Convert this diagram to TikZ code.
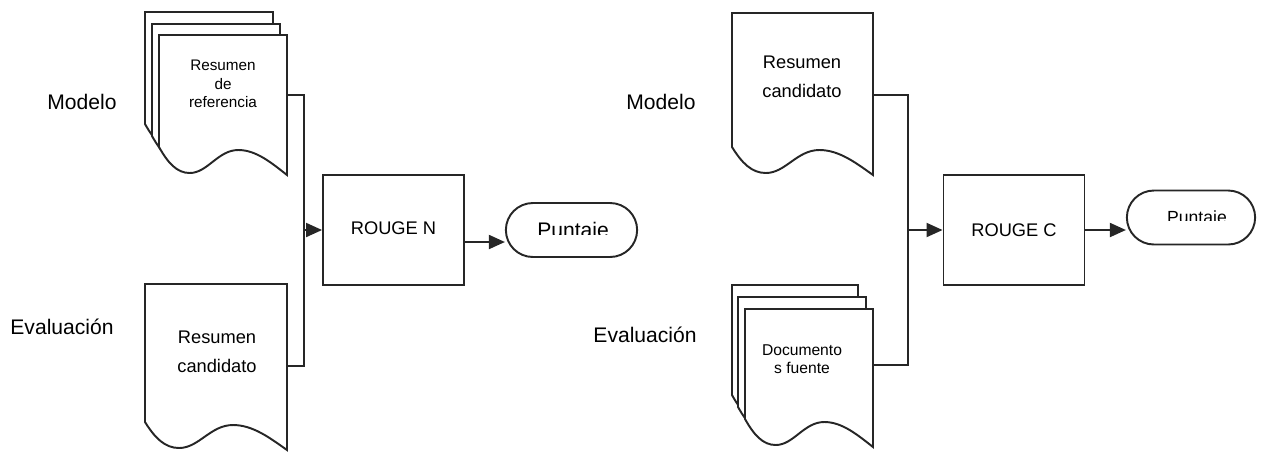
\documentclass[tikz,border=0pt]{standalone}
\usepackage{fontspec}
\setmainfont{Liberation Sans}
\usetikzlibrary{arrows.meta,shapes.misc}

% Blatt mit welliger Unterkante: links, oben, Breite, Hoehe
\newcommand{\dokument}[4]{%
  \draw[blatt] (#1,#2) -- ({#1+#3},#2) -- ({#1+#3},{#2+#4})
    .. controls ({#1+0.88*#3},{#2+#4-12}) and ({#1+0.76*#3},{#2+#4-25}) .. ({#1+0.62*#3},{#2+#4-25})
    .. controls ({#1+0.46*#3},{#2+#4-25}) and ({#1+0.38*#3},{#2+#4-2}) .. ({#1+0.24*#3},{#2+#4-2})
    .. controls ({#1+0.14*#3},{#2+#4-2}) and ({#1+0.07*#3},{#2+#4-12}) .. (#1,{#2+#4-28})
    -- cycle;}

\begin{document}
\begin{tikzpicture}[x=0.02cm, y=-0.02cm, >={Triangle[length=3.2mm,width=2.8mm]},
  linie/.style={draw=black!85, line width=1.1pt},
  blatt/.style={linie, fill=white},
  kasten/.style={linie, rectangle, minimum width=2.82cm, minimum height=2.2cm, font=\fontsize{10.4}{12}\selectfont},
  ziel/.style={linie, rounded rectangle, minimum height=1.08cm},
  beschriftung/.style={font=\fontsize{12}{14}\selectfont}]

\useasboundingbox (0,0) rectangle (1263,451);

% ---- ROUGE N ----

% Referenzen (Stapel)
\dokument{145}{12}{128}{140}
\dokument{152}{24}{128}{140}
\dokument{159}{35}{128}{140}
\node[font=\fontsize{8.7}{10.4}\selectfont, align=center] (refN) at (223,84) {Resumen\\de\\referencia};

% Kandidat
\dokument{145}{284}{142}{166}
\node[font=\fontsize{10.4}{16.6}\selectfont, align=center] (kandN) at (217,352) {Resumen\\candidato};

\node[beschriftung] (modellN) at (82,102) {Modelo};
\node[beschriftung] (evalN) at (62,327) {Evaluación};

% Sammelleitung
\coordinate (refausN) at (287,95);
\coordinate (kandausN) at (287,366);
\coordinate (busN) at (304,230);
\draw[linie] (refausN) -| (busN) |- (kandausN);

\node[kasten] (rougeN) at (393.5,230) {\raisebox{2.5pt}{ROUGE N}};
\draw[linie,->] (busN) -- (rougeN.west);

% Ausgang
\node[ziel, minimum width=2.86cm] (punkteN) at (571.5,230) {};
\begin{scope}
  \clip (500,200) rectangle (643,234);
  \node[font=\fontsize{12}{14}\selectfont] (textN) at (573,232) {Puntaje};
\end{scope}
\draw[linie,->] ([yshift=-0.24cm]rougeN.east) -- ([yshift=-0.24cm]punkteN.west);

% ---- ROUGE C ----

% Kandidat
\dokument{732}{13}{141}{162}
\node[font=\fontsize{10.4}{16.6}\selectfont, align=center] (kandC) at (802,77) {Resumen\\candidato};

% Quelldokumente (Stapel)
\dokument{732}{285}{126}{138}
\dokument{738}{297}{128}{138}
\dokument{745}{309}{128}{138}
\node[font=\fontsize{8.9}{10.4}\selectfont, align=center] (quelleC) at (802,359) {Documento\\s fuente};

\node[beschriftung] (modellC) at (661,102) {Modelo};
\node[beschriftung] (evalC) at (645,335) {Evaluación};

% Sammelleitung
\coordinate (kandausC) at (873,95);
\coordinate (quelleausC) at (873,365);
\coordinate (busC) at (908,230);
\draw[linie] (kandausC) -| (busC) |- (quelleausC);

\node[kasten] (rougeC) at (1014,230) {ROUGE C};
\draw[linie,->] (busC) -- (rougeC.west);

% Ausgang
\node[ziel, minimum width=2.8cm] (punkteC) at (1191,217.5) {};
\begin{scope}
  \clip (1122,195) rectangle (1261,220);
  \node[font=\fontsize{10}{12}\selectfont] (textC) at (1197,219) {Puntaje};
\end{scope}
\draw[linie,->] (rougeC.east) -- (rougeC.east -| punkteC.west);

\end{tikzpicture}
\end{document}
